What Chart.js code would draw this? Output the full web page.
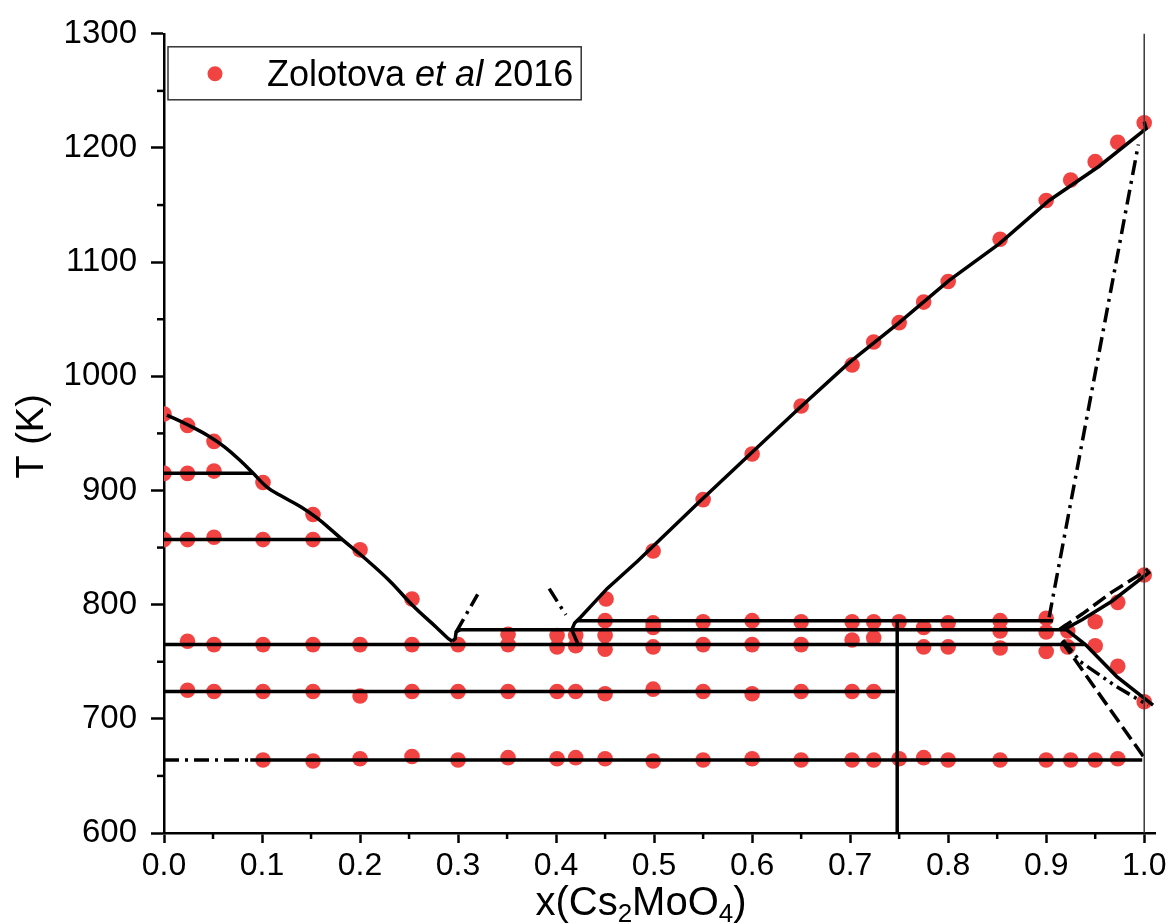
<!DOCTYPE html>
<html>
<head>
<meta charset="utf-8">
<script src="https://cdn.jsdelivr.net/npm/chart.js@4.4.0/dist/chart.umd.min.js"></script>
<style>
html,body{margin:0;padding:0;background:#fff;}
</style>
</head>
<body>
<canvas id="phaseChart" width="1175" height="924"></canvas>
<script>
// tick values
const xTicks = [0, 0.1, 0.2, 0.3, 0.4, 0.5, 0.6, 0.7, 0.8, 0.9, 1.0];
const xMinor = [0.05, 0.15, 0.25, 0.35, 0.45, 0.55, 0.65, 0.75, 0.85, 0.95];
const tTicks = [600, 700, 800, 900, 1000, 1100, 1200, 1300];
const tMinor = [650, 750, 850, 950, 1050, 1150, 1250];

// Zolotova et al 2016 (measured)
const zolX = [0, 0, 0,
  0.024, 0.024, 0.024, 0.024, 0.024,
  0.051, 0.051, 0.051, 0.051, 0.051,
  0.101, 0.101, 0.101, 0.101, 0.101,
  0.152, 0.152, 0.152, 0.152, 0.152,
  0.2, 0.2, 0.2, 0.2,
  0.253, 0.253, 0.253, 0.253,
  0.3, 0.3, 0.3,
  0.351, 0.351, 0.351, 0.351,
  0.401, 0.401, 0.401, 0.401,
  0.42, 0.42, 0.42, 0.42,
  0.451, 0.45, 0.45, 0.45, 0.45, 0.45,
  0.499, 0.499, 0.499, 0.499, 0.499, 0.499,
  0.55, 0.55, 0.55, 0.55, 0.55,
  0.6, 0.6, 0.6, 0.6, 0.6,
  0.65, 0.65, 0.65, 0.65, 0.65,
  0.702, 0.702, 0.702, 0.702, 0.702,
  0.724, 0.724, 0.724, 0.724, 0.724,
  0.75, 0.75, 0.75,
  0.775, 0.775, 0.775, 0.775,
  0.8, 0.8, 0.8, 0.8,
  0.853, 0.853, 0.853, 0.853, 0.853,
  0.9, 0.9, 0.9, 0.9, 0.9,
  0.925, 0.922, 0.922, 0.925,
  0.95, 0.95, 0.95, 0.95,
  0.973, 0.973, 0.973, 0.973,
  1.0, 1.0, 1.0];
const zolT = [967, 915, 857,
  957, 915, 857, 768, 725,
  943, 917, 859, 765, 724,
  907, 857, 765, 724, 664,
  879, 857, 765, 724, 663,
  848, 765, 720, 665,
  805, 765, 724, 667,
  765, 724, 664,
  774, 765, 724, 666,
  773, 763, 724, 665,
  773, 764, 724, 666,
  805, 786, 773, 761, 722, 665,
  847, 784, 780, 763, 726, 663,
  892, 785, 765, 724, 664,
  932, 786, 765, 722, 665,
  974, 785, 765, 724, 664,
  1010, 785, 769, 724, 664,
  1030, 785, 771, 724, 664,
  1047, 785, 665,
  1065, 780, 763, 666,
  1083, 784, 763, 664,
  1120, 786, 777, 762, 664,
  1154, 788, 776, 759, 664,
  1172, 777, 763, 664,
  1188, 785, 764, 664,
  1205, 802, 746, 665,
  1222, 826, 715];

// calculated liquidus, left branch
const liqLeftX = [0.003, 0.023, 0.045, 0.062, 0.078, 0.091, 0.105, 0.118, 0.139, 0.156, 0.170, 0.182, 0.203, 0.230, 0.254, 0.278, 0.289, 0.294];
const liqLeftT = [966, 958, 948, 938, 926, 915, 903, 896, 886, 876, 866, 857, 842, 821, 799, 780, 771, 768];
const hookLeftX = [0.294, 0.297, 0.298, 0.302];
const hookLeftT = [768, 770, 776, 778];
// calculated liquidus, right branch
const liqRightX = [0.423, 0.416, 0.419, 0.425, 0.452, 0.483, 0.546, 0.597, 0.648, 0.699, 0.750, 0.801, 0.852, 0.903, 0.954, 1.002, 1.0];
const liqRightT = [764, 778, 784, 789, 814, 838, 890, 931, 972, 1012, 1047, 1084, 1116, 1154, 1184, 1217, 1223];

// invariant (horizontal) lines
const invT    = [915, 857, 786, 778, 765, 724, 664];
const invFrom = [0, 0, 0.421, 0.302, 0, 0, 0.088];
const invTo   = [0.091, 0.182, 0.907, 0.921, 0.940, 0.746, 0.998];

// intermediate compound vertical
const compX = [0.748, 0.748];
const compT = [600, 786];
// pure end member line
const endX = [1.0, 1.0];
const endT = [600, 1300];

// solid lines on the Cs2MoO4 rich side
const upSolidX = [0.918, 0.937, 0.967, 1.006];
const upSolidT = [778, 787, 803, 829];
const downSolidX = [0.921, 0.940, 0.972, 1.009];
const downSolidT = [778, 765, 737, 712];

// dashed lines
const upDashX = [0.913, 0.937, 0.967, 1.004];
const upDashT = [778, 792, 811, 831];
const downDashX = [0.916, 1.0];
const downDashT = [768, 666];

// dash-dot lines
const ddLowX = [0, 0.088];
const ddLowT = [664, 664];
const ddMinX = [0.298, 0.32];
const ddMinT = [776, 809];
const ddMidX = [0.393, 0.41];
const ddMidT = [814, 791];
const ddTopX = [0.903, 0.994];
const ddTopT = [789, 1203];
const dddX = [0.917, 0.935, 0.972, 1.004];
const dddT = [769, 750, 728, 712];

const FONT = "'Liberation Sans', Arial, sans-serif";
const DASH = [15, 6];
const DASHDOT = [15, 6, 3, 6];
const DASHDOTDOT = [15, 5, 3, 5, 3, 5];

function pts(xs, ts) {
  return xs.map((x, i) => ({ x: x, y: ts[i] }));
}
function line(xs, ts, dash, color, width, tension) {
  return {
    data: pts(xs, ts),
    showLine: true,
    borderColor: color || '#000',
    borderWidth: width || 3.5,
    borderDash: dash || [],
    pointRadius: 0,
    pointHoverRadius: 0,
    fill: false,
    tension: tension || 0,
    clip: false,
    order: 1
  };
}

const datasets = [];
datasets.push(line(endX, endT, null, '#3a3a3a', 1.5));
datasets.push(line(liqLeftX, liqLeftT, null, null, null, 0.4));
datasets.push(line(hookLeftX, hookLeftT));
datasets.push(line(liqRightX, liqRightT));
invT.forEach((t, i) => datasets.push(line([invFrom[i], invTo[i]], [t, t])));
datasets.push(line(compX, compT));
datasets.push(line(upSolidX, upSolidT));
datasets.push(line(downSolidX, downSolidT));
datasets.push(line(upDashX, upDashT, DASH));
datasets.push(line(downDashX, downDashT, DASH));
datasets.push(line(ddLowX, ddLowT, DASHDOT));
datasets.push(line(ddMinX, ddMinT, DASHDOT));
datasets.push(line(ddMidX, ddMidT, DASHDOT));
datasets.push(line(ddTopX, ddTopT, DASHDOT));
datasets.push(line(dddX, dddT, DASHDOTDOT));
datasets.push({
  label: 'Zolotova et al 2016',
  data: pts(zolX, zolT),
  pointRadius: 7.8,
  pointHoverRadius: 7.8,
  pointBackgroundColor: '#f24343',
  pointBorderWidth: 0,
  showLine: false,
  order: 2
});

// minor ticks, legend and axis titles
const decor = {
  id: 'decor',
  afterDraw(chart) {
    const ctx = chart.ctx, a = chart.chartArea;
    const xs = chart.scales.x, ys = chart.scales.y;
    ctx.save();
    ctx.strokeStyle = '#000';
    ctx.lineWidth = 2.5;
    xMinor.forEach(v => {
      const p = xs.getPixelForValue(v);
      ctx.beginPath(); ctx.moveTo(p, a.bottom); ctx.lineTo(p, a.bottom + 6); ctx.stroke();
    });
    tMinor.forEach(v => {
      const p = ys.getPixelForValue(v);
      ctx.beginPath(); ctx.moveTo(a.left, p); ctx.lineTo(a.left - 7, p); ctx.stroke();
    });

    // legend
    const lx = a.left + 4, ly = a.top + 13;
    ctx.font = '36px ' + FONT;
    const w1 = ctx.measureText('Zolotova ').width;
    ctx.font = 'italic 36px ' + FONT;
    const w2 = ctx.measureText('et al').width;
    ctx.font = '36px ' + FONT;
    const w3 = ctx.measureText(' 2016').width;
    const tx = lx + 99;
    const bw = tx - lx + w1 + w2 + w3 + 8;
    ctx.fillStyle = '#fff';
    ctx.fillRect(lx, ly, bw, 53);
    ctx.strokeStyle = '#333';
    ctx.lineWidth = 1.5;
    ctx.strokeRect(lx, ly, bw, 53);
    ctx.fillStyle = '#f24343';
    ctx.beginPath(); ctx.arc(lx + 47, ly + 27, 7.5, 0, Math.PI * 2); ctx.fill();
    ctx.fillStyle = '#000';
    ctx.textBaseline = 'alphabetic';
    ctx.textAlign = 'left';
    ctx.font = '36px ' + FONT;
    ctx.fillText('Zolotova ', tx, ly + 39);
    ctx.font = 'italic 36px ' + FONT;
    ctx.fillText('et al', tx + w1, ly + 39);
    ctx.font = '36px ' + FONT;
    ctx.fillText(' 2016', tx + w1 + w2, ly + 39);

    // y title
    ctx.save();
    ctx.translate(43, (a.top + a.bottom) / 2 + 3);
    ctx.rotate(-Math.PI / 2);
    ctx.textAlign = 'center';
    ctx.font = '38px ' + FONT;
    ctx.fillText('T (K)', 0, 0);
    ctx.restore();

    // x title with subscripts
    const parts = [['x(Cs', 40, 0], ['2', 26, 7], ['MoO', 40, 0], ['4', 26, 7], [')', 40, 0]];
    let total = 0;
    parts.forEach(p => { ctx.font = p[1] + 'px ' + FONT; total += ctx.measureText(p[0]).width; });
    let cx = 641 - total / 2;
    parts.forEach(p => {
      ctx.font = p[1] + 'px ' + FONT;
      ctx.fillText(p[0], cx, 915 + p[2]);
      cx += ctx.measureText(p[0]).width;
    });
    ctx.restore();
  }
};

new Chart(document.getElementById('phaseChart'), {
  type: 'scatter',
  data: { datasets: datasets },
  options: {
    responsive: false,
    animation: false,
    layout: { autoPadding: false, padding: { top: 29, right: 20, left: 0, bottom: 0 } },
    plugins: { legend: { display: false }, tooltip: { enabled: false } },
    scales: {
      x: {
        type: 'linear',
        min: 0,
        max: 1.011,
        afterBuildTicks: s => { s.ticks = xTicks.map(v => ({ value: v })); },
        afterFit: s => { s.height = 91; },
        grid: { drawOnChartArea: false, tickLength: 10, tickWidth: 2.5, tickColor: '#000' },
        border: { color: '#000', width: 2.5 },
        ticks: { color: '#000', font: { family: FONT, size: 32 }, padding: 4, maxRotation: 0, autoSkip: false,
          callback: v => Number(v).toFixed(1) }
      },
      y: {
        type: 'linear',
        min: 600,
        max: 1300,
        afterBuildTicks: s => { s.ticks = tTicks.map(v => ({ value: v })); },
        afterFit: s => { s.width = 164; },
        grid: { drawOnChartArea: false, tickLength: 13, tickWidth: 2.5, tickColor: '#000' },
        border: { color: '#000', width: 2.5 },
        ticks: { color: '#000', font: { family: FONT, size: 33 }, padding: 14, autoSkip: false,
          callback: v => String(v) }
      }
    }
  },
  plugins: [decor]
});
</script>
</body>
</html>
